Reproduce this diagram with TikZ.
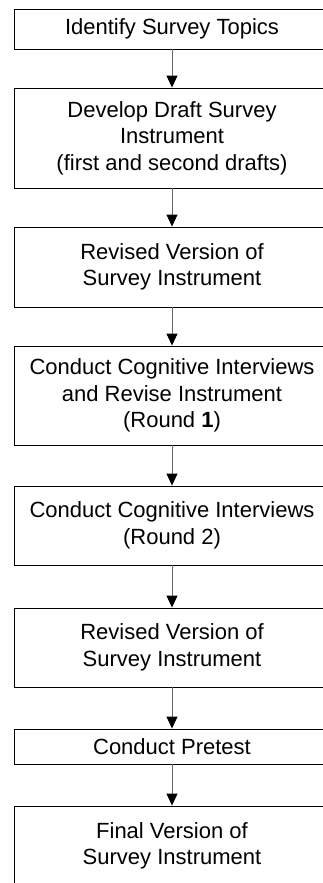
\documentclass[tikz,border=0pt]{standalone}
\usepackage{fontspec}
\setmainfont{Liberation Sans}
\usetikzlibrary{arrows.meta}

\begin{document}
\begin{tikzpicture}[x=1pt,y=-1pt,
    stage/.style={draw=black,line width=0.9pt,minimum width=316pt,inner sep=0pt,
        align=center,font=\fontsize{22}{26.5}\selectfont},
    flow/.style={draw=black!60,line width=1pt,
        -{Triangle[length=12pt,width=11pt,color=black]}}]
    \useasboundingbox (0,0) rectangle (322,883);
    \node[stage,minimum height=40pt] (topics) at (172,29) {Identify Survey Topics};
    \node[stage,minimum height=100pt] (draft) at (172,138)
        {Develop Draft Survey\\Instrument\\(first and second drafts)};
    \node[stage,minimum height=80pt] (revised) at (172,267)
        {Revised Version of\\Survey Instrument};
    \node[stage,minimum height=99pt] (cogone) at (172,395.5)
        {Conduct Cognitive Interviews\\and Revise Instrument\\(Round \textbf{1})};
    \node[stage,minimum height=79pt] (cogtwo) at (172,525.5)
        {Conduct Cognitive Interviews\\(Round 2)};
    \node[stage,minimum height=79pt] (revisedtwo) at (172,647.5)
        {Revised Version of\\Survey Instrument};
    \node[stage,minimum height=35pt] (pretest) at (172,746.5) {Conduct Pretest};
    \node[stage,minimum height=80pt] (final) at (172,846)
        {Final Version of\\Survey Instrument};
    \draw[flow] (topics) -- (draft);
    \draw[flow] (draft) -- (revised);
    \draw[flow] (revised) -- (cogone);
    \draw[flow] (cogone) -- (cogtwo);
    \draw[flow] (cogtwo) -- (revisedtwo);
    \draw[flow] (revisedtwo) -- (pretest);
    \draw[flow] (pretest) -- (final);
\end{tikzpicture}
\end{document}
